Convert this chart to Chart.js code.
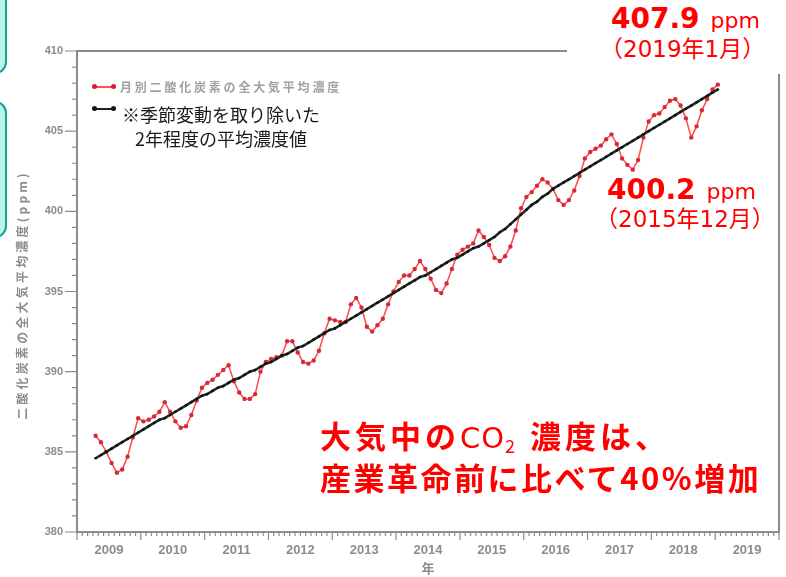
<!DOCTYPE html>
<html>
<head>
<meta charset="utf-8">
<script src="https://cdn.jsdelivr.net/npm/chart.js@4.4.1/dist/chart.umd.min.js"></script>
<style>
  body { margin: 0; background: #fff; }
  #wrap { position: relative; width: 786px; height: 577px; overflow: hidden; }
  #wrap canvas { position: absolute; left: 0; top: 0; }
  .box { position: absolute; box-sizing: border-box; border: 2px solid #17a08c; background: #b8f3ea; border-radius: 12px; }
  .mask { position: absolute; background: #fff; }
  .red { position: absolute; color: #ff0000; white-space: nowrap; line-height: 1; font-family: "DejaVu Sans", "Noto Sans CJK JP", sans-serif; }
  .red b { font-weight: bold; font-size: 28px; }
  .red .unit { font-size: 22px; margin-left: 11px; }
  .big { position: absolute; color: #ff0000; white-space: nowrap; line-height: 1; font-family: "Noto Sans CJK JP", sans-serif; font-weight: bold; font-size: 31px; letter-spacing: 2.5px; }
  .big .co { font-weight: normal; font-family: "DejaVu Sans", sans-serif; font-size: 29px; letter-spacing: 1px; }
  .big sub { font-size: 18px; font-weight: normal; vertical-align: -5px; line-height: 0; }
  .legtxt { position: absolute; white-space: nowrap; line-height: 1; font-family: "Noto Sans CJK JP", sans-serif; }
  .legline { position: absolute; height: 2px; width: 20px; }
  .legdot { position: absolute; width: 5px; height: 5px; border-radius: 50%; }
  .ytitle { position: absolute; left: 22px; top: 295px; transform: translate(-50%, -50%) rotate(-90deg); white-space: nowrap; line-height: 1;
            font-family: "Noto Sans CJK JP", sans-serif; font-weight: bold; font-size: 12px; letter-spacing: 3.2px; color: #8c8c8c; }
</style>
</head>
<body>
<div id="wrap">
  <canvas id="co2Chart" width="786" height="577"></canvas>

  <div class="box" style="left:-20px; top:-20px; width:27px; height:94px;"></div>
  <div class="box" style="left:-20px; top:101px; width:27px; height:137px;"></div>

  <div class="mask" style="left:567px; top:0; width:219px; height:74px;"></div>

  <div class="ytitle">二酸化炭素の全大気平均濃度(ppm)</div>

  <div class="legline" style="left:94px; top:86px; background:#ff5050;"></div>
  <div class="legdot" style="left:92px; top:84px; background:#d02030;"></div>
  <div class="legdot" style="left:111px; top:84px; background:#d02030;"></div>
  <div class="legtxt" style="left:120px; top:81px; font-size:12px; font-weight:bold; color:#a0a0a0; letter-spacing:2.8px;">月別二酸化炭素の全大気平均濃度</div>

  <div class="legline" style="left:94px; top:108px; background:#1c2b22;"></div>
  <div class="legdot" style="left:92px; top:106px; background:#111;"></div>
  <div class="legdot" style="left:111px; top:106px; background:#111;"></div>
  <div class="legtxt" style="left:122px; top:105px; font-size:18px; color:#1a1a1a;">※季節変動を取り除いた</div>
  <div class="legtxt" style="left:135px; top:129px; font-size:18px; color:#1a1a1a;">2年程度の平均濃度値</div>

  <div class="red" style="left:611px; top:5px;"><b>407.9</b><span class="unit">ppm</span></div>
  <div class="red" style="left:600px; top:38px; font-size:23px;">（2019年1月）</div>
  <div class="red" style="left:607px; top:176px;"><b>400.2</b><span class="unit">ppm</span></div>
  <div class="red" style="left:595px; top:208px; font-size:23px;">（2015年12月）</div>

  <div class="big" style="left:320px; top:419px; letter-spacing:4px;">大気中の<span class="co">CO</span><sub>2</sub> 濃度は、</div>
  <div class="big" style="left:320px; top:461px;">産業革命前に比べて40%増加</div>
</div>

<script>
// first month of the series: April 2009
const startYear = 2009;
const startMonth = 4;

// 月別二酸化炭素の全大気平均濃度 (ppm), Apr 2009 .. Jan 2019
const monthlyCO2 = [
  386.0, 385.6, 385.0, 384.3, 383.7, 383.9, 384.7, 385.9, 387.1,
  386.9, 387.0, 387.2, 387.5, 388.1, 387.5, 386.9, 386.5, 386.6, 387.3, 388.2, 389.0,
  389.3, 389.5, 389.8, 390.1, 390.4, 389.4, 388.7, 388.3, 388.3, 388.6, 390.0, 390.6,
  390.8, 390.9, 391.0, 391.9, 391.9, 391.2, 390.6, 390.5, 390.7, 391.3, 392.4, 393.3,
  393.2, 393.1, 393.1, 394.2, 394.6, 394.0, 392.8, 392.5, 392.9, 393.3, 394.2, 395.0,
  395.6, 396.0, 396.0, 396.4, 396.9, 396.4, 395.8, 395.1, 394.9, 395.5, 396.4, 397.3,
  397.6, 397.8, 398.0, 398.8, 398.4, 397.9, 397.1, 396.9, 397.2, 397.8, 398.8, 400.2,
  400.9, 401.2, 401.6, 402.0, 401.8, 401.4, 400.7, 400.4, 400.7, 401.3, 402.2, 403.3,
  403.7, 403.9, 404.1, 404.5, 404.8, 404.2, 403.3, 402.9, 402.6, 403.2, 404.6, 405.6,
  406.0, 406.1, 406.5, 406.9, 407.0, 406.6, 405.8, 404.6, 405.3, 406.3, 407.0, 407.6,
  407.9
];

// ※季節変動を取り除いた2年程度の平均濃度値 (ppm)
const trendCO2 = [
  384.6, 384.8, 385.0, 385.2, 385.4, 385.6, 385.8, 386.0, 386.2,
  386.4, 386.6, 386.8, 387.0, 387.1, 387.3, 387.5, 387.7, 387.9, 388.1, 388.3, 388.5,
  388.6, 388.8, 389.0, 389.1, 389.3, 389.5, 389.6, 389.8, 390.0, 390.1, 390.3, 390.5,
  390.6, 390.8, 391.0, 391.1, 391.3, 391.5, 391.6, 391.8, 392.0, 392.2, 392.4, 392.6,
  392.7, 392.9, 393.1, 393.3, 393.5, 393.7, 393.9, 394.1, 394.3, 394.5, 394.7, 394.9,
  395.1, 395.3, 395.5, 395.7, 395.9, 396.0, 396.2, 396.4, 396.6, 396.8, 397.0, 397.1,
  397.3, 397.5, 397.7, 397.8, 398.0, 398.2, 398.4, 398.7, 398.9, 399.2, 399.5, 399.8,
  400.1, 400.4, 400.6, 400.9, 401.1, 401.4, 401.6, 401.8, 402.0, 402.2, 402.4, 402.6,
  402.8, 403.0, 403.2, 403.4, 403.6, 403.8, 404.0, 404.2, 404.4, 404.6, 404.8, 405.0,
  405.2, 405.4, 405.6, 405.8, 406.0, 406.2, 406.4, 406.6, 406.8, 407.0, 407.2, 407.4,
  407.6
];

const yearLabels = ['2009', '2010', '2011', '2012', '2013', '2014', '2015', '2016', '2017', '2018', '2019'];

// month index -> decimal year at mid-month
function monthPos(i) {
  return startYear + (startMonth - 1 + i + 0.5) / 12;
}

const axisGray = '#8c8c8c';

// frame and monthly / 1 ppm tick marks
const frameTicks = {
  id: 'frameTicks',
  beforeDatasetsDraw(chart) {
    const { ctx, chartArea: a, scales: { x, y } } = chart;
    ctx.save();
    ctx.strokeStyle = axisGray;
    ctx.lineWidth = 2;
    ctx.strokeRect(a.left, a.top, a.right - a.left, a.bottom - a.top);
    ctx.lineWidth = 1.2;
    ctx.beginPath();
    for (let v = y.min; v <= y.max; v++) {
      const py = y.getPixelForValue(v);
      const len = v % 5 === 0 ? 12 : 5;
      ctx.moveTo(a.left - len, py);
      ctx.lineTo(a.left, py);
    }
    for (let m = 0; m <= (x.max - x.min) * 12; m++) {
      const px = x.getPixelForValue(x.min + m / 12);
      const len = m % 12 === 0 ? 8 : 4;
      ctx.moveTo(px, a.bottom);
      ctx.lineTo(px, a.bottom + len);
    }
    ctx.stroke();
    ctx.restore();
  }
};

const ctx = document.getElementById('co2Chart').getContext('2d');

const co2Chart = new Chart(ctx, {
  type: 'line',
  data: {
    datasets: [{
      label: '月別二酸化炭素の全大気平均濃度',
      data: monthlyCO2.map((v, i) => ({ x: monthPos(i), y: v })),
      borderColor: '#ff4848',
      borderWidth: 1.5,
      pointRadius: 2.2,
      pointBackgroundColor: '#d42a3a',
      pointBorderWidth: 0,
      order: 1
    }, {
      label: '※季節変動を取り除いた2年程度の平均濃度値',
      data: trendCO2.map((v, i) => ({ x: monthPos(i), y: v })),
      borderColor: '#1c2b22',
      borderWidth: 2.6,
      pointRadius: 1.3,
      pointBackgroundColor: '#0d0d0d',
      pointBorderWidth: 0,
      order: 0
    }]
  },
  options: {
    responsive: false,
    animation: false,
    layout: { padding: { top: 51, right: 7, left: 0, bottom: 0 } },
    plugins: { legend: { display: false }, tooltip: { enabled: false } },
    scales: {
      x: {
        type: 'linear',
        min: 2009,
        max: 2020,
        afterBuildTicks: s => { s.ticks = yearLabels.map(yr => ({ value: Number(yr) + 0.5 })); },
        afterFit: s => { s.height = 45; },
        grid: { display: false, drawTicks: false },
        border: { display: false },
        ticks: {
          callback: v => String(Math.floor(v)),
          autoSkip: false,
          maxRotation: 0,
          padding: 11,
          color: axisGray,
          font: { family: 'Liberation Sans', size: 13, weight: 'bold' }
        },
        title: {
          display: true,
          text: '年',
          color: axisGray,
          padding: { top: 0, bottom: 1 },
          font: { family: 'Noto Sans CJK JP', size: 13, weight: 'bold' }
        }
      },
      y: {
        min: 380,
        max: 410,
        afterFit: s => { s.width = 77; },
        grid: { display: false, drawTicks: false },
        border: { display: false },
        ticks: {
          stepSize: 5,
          padding: 14,
          color: axisGray,
          font: { family: 'Liberation Sans', size: 11, weight: 'bold' }
        }
      }
    }
  },
  plugins: [frameTicks]
});
</script>
</body>
</html>
